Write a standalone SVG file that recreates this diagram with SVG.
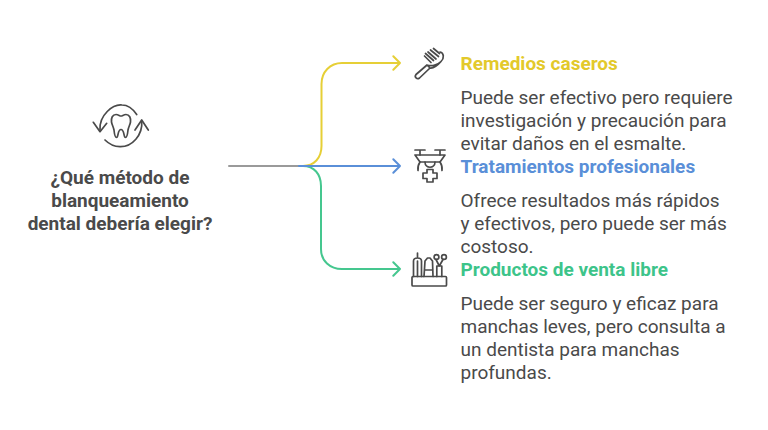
<svg xmlns="http://www.w3.org/2000/svg" width="768" height="430" viewBox="0 0 768 430">
<style>
text{font-family:Roboto,"Liberation Sans",sans-serif}
.t{font-size:19px;fill:#4a4a4a}
.h{font-size:19px;font-weight:700}
.q{font-size:19px;font-weight:700;fill:#4a4a4a;text-anchor:middle}
.c{fill:none;stroke-width:2;stroke-linecap:round;stroke-linejoin:round}
.i{fill:none;stroke:#4a4a4a;stroke-width:1.7;stroke-linecap:round;stroke-linejoin:round}
</style>
<rect width="768" height="430" fill="#fff"/>
<g id="connectors">
<path class="c" stroke="#e6cf36" d="M303 166C314 166 321.500 158 321.500 146V84C321.500 72 330 63 342 63H400M393.300 56.300L400 63L393.300 69.700"/>
<path class="c" stroke="#45c78f" d="M303 166C314 166 321 174 321 186V249C321 261 330 269 342 269H400M393.300 262.300L400 269L393.300 275.700"/>
<path class="c" stroke="#9a9a9a" d="M229 166H300"/>
<path class="c" stroke="#5a8fd8" d="M299 166H400M393.300 159.300L400 166L393.300 172.700"/>
</g>
<g id="root">
<g class="i">
<path d="M100 130C99 115 113 104 122 105C128 105 133 109 136.700 114.500"/>
<path d="M93.300 122.300L100 131.700L106.700 123.300"/>
<path d="M141.700 121C143 135 132 147 120 146.700C114 146.500 109 144 105 140"/>
<path d="M135 130L141.700 120L148.300 130"/>
<path d="M116 114.500C118.500 114.500 119.500 116 121 116C122.500 116 123.500 114.500 126 114.500C129.500 114.500 131 118 130.500 122C130 125 128.500 127 128 130C127.700 133 127 137.500 125.500 137.500C123.500 137.500 124.500 129.500 121 129.500C117.500 129.500 118.500 137.500 116.500 137.500C115 137.500 114.300 133 114 130C113.500 127 112 125 111.500 122C111 118 112.500 114.500 116 114.500Z"/>
</g>
<text class="q" x="120" y="183.500">¿Qué método de</text>
<text class="q" x="120" y="206.500">blanqueamiento</text>
<text class="q" x="120" y="230">dental debería elegir?</text>
</g>
<g id="remedios">
<g class="i">
<path d="M416 74.500L427 65C431 66.500 437 65.500 441 61.500C444.500 58 444 53 440 52M430 68L419.500 78C417 80 414 77 416 74.500M427 65L430 68C434 68.500 438 65 441 61.500"/>
<path d="M424.500 56L431 62.500M425.500 53.500L433.500 60.500M428 52L436 59M430.500 50L438.500 56.500M433.500 48.500L439.500 53.500"/>
</g>
<text class="h" x="460.500" y="69.500" fill="#e3c92b">Remedios caseros</text>
<text class="t" x="460.500" y="104">Puede ser efectivo pero requiere</text>
<text class="t" x="460.500" y="127">investigación y precaución para</text>
<text class="t" x="460.500" y="150">evitar daños en el esmalte.</text>
</g>
<g id="tratamientos">
<g class="i">
<path d="M415 150H425M420 150V155M435 150H445M440 150V155"/>
<path d="M415 155H445L440 162H420Z"/>
<path d="M420 162C418 165 417.500 167 418 170.500M440 162C442 165 442.500 167 442 170.500"/>
<path d="M425 162C425 169 435 169 435 162"/>
<path d="M427 169.500H433V173H437V178.500H433V182H427V178.500H423V173H427Z"/>
</g>
<text class="h" x="460.500" y="172.500" fill="#5a8fd8">Tratamientos profesionales</text>
<text class="t" x="460.500" y="207">Ofrece resultados más rápidos</text>
<text class="t" x="460.500" y="230">y efectivos, pero puede ser más</text>
<text class="t" x="460.500" y="253">costoso.</text>
</g>
<g id="productos">
<g class="i">
<rect x="412" y="276.500" width="34.500" height="9.500" rx="1"/>
<path d="M413.500 276.500V261C413.500 259 415 258 417.500 258C420 258 421.500 259 421.500 261V276.500M417.500 258V253M417.500 261V276.500"/>
<path d="M424 276.500L425 261L427.500 258H430L432.500 261L433 276.500M425 270H432"/>
<path d="M436.800 276.500V266H441.800V276.500M439.300 266L436 259.500M439.300 266L443 259.500"/>
<circle cx="436.500" cy="257" r="2.400"/>
<circle cx="444" cy="257" r="2.400"/>
</g>
<text class="h" x="460.500" y="276" fill="#3dc48a">Productos de venta libre</text>
<text class="t" x="460.500" y="310">Puede ser seguro y eficaz para</text>
<text class="t" x="460.500" y="333">manchas leves, pero consulta a</text>
<text class="t" x="460.500" y="356">un dentista para manchas</text>
<text class="t" x="460.500" y="379">profundas.</text>
</g>
</svg>
